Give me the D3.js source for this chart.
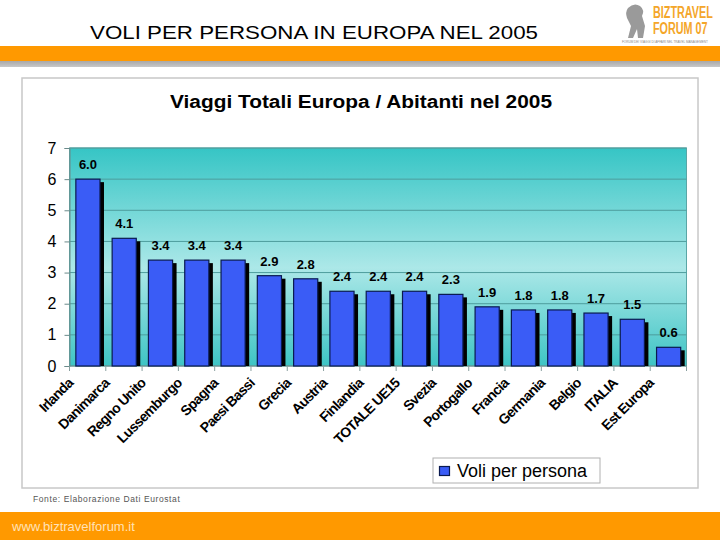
<!DOCTYPE html>
<html>
<head>
<meta charset="utf-8">
<script src="https://cdn.jsdelivr.net/npm/d3@7"></script>
<style>
html,body{margin:0;padding:0;background:#fff;}
svg{display:block;font-family:Arial,"Liberation Sans",sans-serif;}
</style>
</head>
<body>
<svg id="chart" width="720" height="540"></svg>
<script>
const pageTitle = "VOLI PER PERSONA IN EUROPA NEL 2005";
const chartTitle = "Viaggi Totali Europa / Abitanti nel 2005";
const categories = ["Irlanda","Danimarca","Regno Unito","Lussemburgo","Spagna","Paesi Bassi","Grecia","Austria","Finlandia","TOTALE UE15","Svezia","Portogallo","Francia","Germania","Belgio","ITALIA","Est Europa"];
const values = [6.0,4.1,3.4,3.4,3.4,2.9,2.8,2.4,2.4,2.4,2.3,1.9,1.8,1.8,1.7,1.5,0.6];
const yTicks = [0,1,2,3,4,5,6,7];
const seriesName = "Voli per persona";
const sourceNote = "Fonte: Elaborazione Dati Eurostat";
const footerUrl = "www.biztravelforum.it";

const svg = d3.select("#chart");
const defs = svg.append("defs");

// header bands
const gGray = defs.append("linearGradient").attr("id","grayband").attr("x1",0).attr("y1",0).attr("x2",0).attr("y2",1);
gGray.append("stop").attr("offset","0%").attr("stop-color","#a8a8a8");
gGray.append("stop").attr("offset","100%").attr("stop-color","#c8c8c8");
svg.append("rect").attr("x",0).attr("y",46).attr("width",720).attr("height",15).attr("fill","#ff9900");
svg.append("rect").attr("x",0).attr("y",61).attr("width",720).attr("height",6).attr("fill","url(#grayband)");

svg.append("text").attr("x",90).attr("y",39).attr("font-size",19)
  .attr("textLength",448).attr("lengthAdjust","spacingAndGlyphs")
  .attr("fill","#000").text(pageTitle);

// logo (approximation)
const logo = svg.append("g");
logo.append("path").attr("d","M628,8 q6,-6 12,-2 q5,4 2,10 l3,10 l-2,12 l-5,0 l-1,-9 l-4,9 l-5,0 l3,-12 l-4,-8 q-2,-6 1,-10z")
  .attr("fill","#9a9a9a");
const logoText = logo.append("g").attr("transform","translate(653,0) scale(0.72,1.05)");
logoText.append("text").attr("x",0).attr("y",17).attr("font-size",15).attr("font-weight","bold")
  .attr("fill","#f4a62a").text("BIZTRAVEL");
logoText.append("text").attr("x",0).attr("y",32).attr("font-size",15).attr("font-weight","bold")
  .attr("fill","#f4a62a").text("FORUM 07");
logo.append("g").attr("transform","translate(622,43) scale(0.88,1)")
  .append("text").attr("x",0).attr("y",0).attr("font-size",3.5).attr("fill","#888")
  .text("FORUM DEI VIAGGI DI AFFARI NEL TRAVEL MANAGEMENT");

// footer
svg.append("rect").attr("x",0).attr("y",512).attr("width",720).attr("height",28).attr("fill","#ff9900");
svg.append("text").attr("x",12).attr("y",531).attr("font-size",13).attr("fill","#ffe2b8").text(footerUrl);

// chart frame
svg.append("rect").attr("x",22).attr("y",78).attr("width",676).attr("height",410)
  .attr("fill","#fff").attr("stroke","#c8c8c8").attr("stroke-width",1.5);

svg.append("text").attr("x",170).attr("y",108).attr("font-size",17.5).attr("font-weight","bold")
  .attr("textLength",382).attr("lengthAdjust","spacingAndGlyphs").text(chartTitle);

// plot
const plot = {left:69.5, right:686.5, top:148, bottom:366};
const x = d3.scaleBand().domain(categories).range([plot.left, plot.right]).padding(0);
const y = d3.scaleLinear().domain([0,7]).range([plot.bottom, plot.top]);
const step = x.step();

const bg = defs.append("linearGradient").attr("id","plotbg").attr("x1",0).attr("y1",0).attr("x2",0).attr("y2",1);
bg.append("stop").attr("offset","0%").attr("stop-color","#36c5c5");
bg.append("stop").attr("offset","55%").attr("stop-color","#ace8e8");
bg.append("stop").attr("offset","100%").attr("stop-color","#3ec4c4");
svg.append("rect").attr("x",plot.left).attr("y",plot.top).attr("width",plot.right-plot.left)
  .attr("height",plot.bottom-plot.top).attr("fill","url(#plotbg)").attr("stroke","#5aa6a6").attr("stroke-width",1);

// gridlines
svg.append("g").selectAll("line").data(yTicks.filter(d=>d>0)).join("line")
  .attr("x1",plot.left).attr("x2",plot.right).attr("y1",d=>y(d)).attr("y2",d=>y(d))
  .attr("stroke","#4d9c9c").attr("stroke-width",1);

// y axis
const yAxis = svg.append("g").attr("transform",`translate(${plot.left},0)`)
  .call(d3.axisLeft(y).tickValues(yTicks).tickFormat(d3.format("d")).tickSize(5).tickPadding(8));
yAxis.select(".domain").attr("stroke","#6a8a8a");
yAxis.selectAll(".tick line").attr("stroke","#6a8a8a");
yAxis.selectAll("text").attr("font-size",16).attr("fill","#000").attr("font-family","Arial,'Liberation Sans',sans-serif");

// x axis line + boundary ticks
svg.append("line").attr("x1",plot.left).attr("x2",plot.right).attr("y1",plot.bottom).attr("y2",plot.bottom)
  .attr("stroke","#6a8a8a");
const bounds = categories.map(c=>x(c)).concat([x(categories[categories.length-1])+step]);
svg.append("g").selectAll("line").data(bounds).join("line")
  .attr("x1",d=>d).attr("x2",d=>d).attr("y1",plot.bottom).attr("y2",plot.bottom+5)
  .attr("stroke","#8aa0a0");

// bars
const data = categories.map((c,i)=>({c, v:values[i]}));
const barOff = step*0.175, barW = step*0.665;
const gb = svg.append("g");
gb.selectAll("rect.sh").data(data).join("rect").attr("class","sh")
  .attr("x",d=>x(d.c)+barOff+4).attr("y",d=>y(d.v)+3)
  .attr("width",barW).attr("height",d=>plot.bottom-y(d.v)-3).attr("fill","#000");
gb.selectAll("rect.bar").data(data).join("rect").attr("class","bar")
  .attr("x",d=>x(d.c)+barOff).attr("y",d=>y(d.v))
  .attr("width",barW).attr("height",d=>plot.bottom-y(d.v))
  .attr("fill","#3a5cf6").attr("stroke","#0a1a50").attr("stroke-width",1.2);

// value labels
gb.selectAll("text.val").data(data).join("text").attr("class","val")
  .attr("x",d=>x(d.c)+barOff+barW/2).attr("y",d=>y(d.v)-10)
  .attr("text-anchor","middle").attr("font-size",13).attr("font-weight","bold")
  .text(d=>d3.format(".1f")(d.v));

// category labels
svg.append("g").selectAll("text").data(categories).join("text")
  .attr("transform",c=>`translate(${x(c)+barOff+barW/2-14},${plot.bottom+18}) rotate(-45)`)
  .attr("text-anchor","end").attr("font-size",14).attr("font-weight","bold")
  .attr("letter-spacing",-0.7).text(c=>c);

// legend
const lg = svg.append("g");
lg.append("rect").attr("x",433).attr("y",458).attr("width",167).attr("height",25)
  .attr("fill","#fff").attr("stroke","#b0b0b0");
lg.append("rect").attr("x",439.5).attr("y",466.5).attr("width",10).attr("height",9)
  .attr("fill","#3a5cf6").attr("stroke","#0a1a50").attr("stroke-width",1.2);
lg.append("text").attr("x",457).attr("y",477).attr("font-size",18).text(seriesName);

// source note
svg.append("text").attr("x",33).attr("y",502).attr("font-size",8.5).attr("fill","#555")
  .attr("letter-spacing",0.6).text(sourceNote);
</script>
</body>
</html>
